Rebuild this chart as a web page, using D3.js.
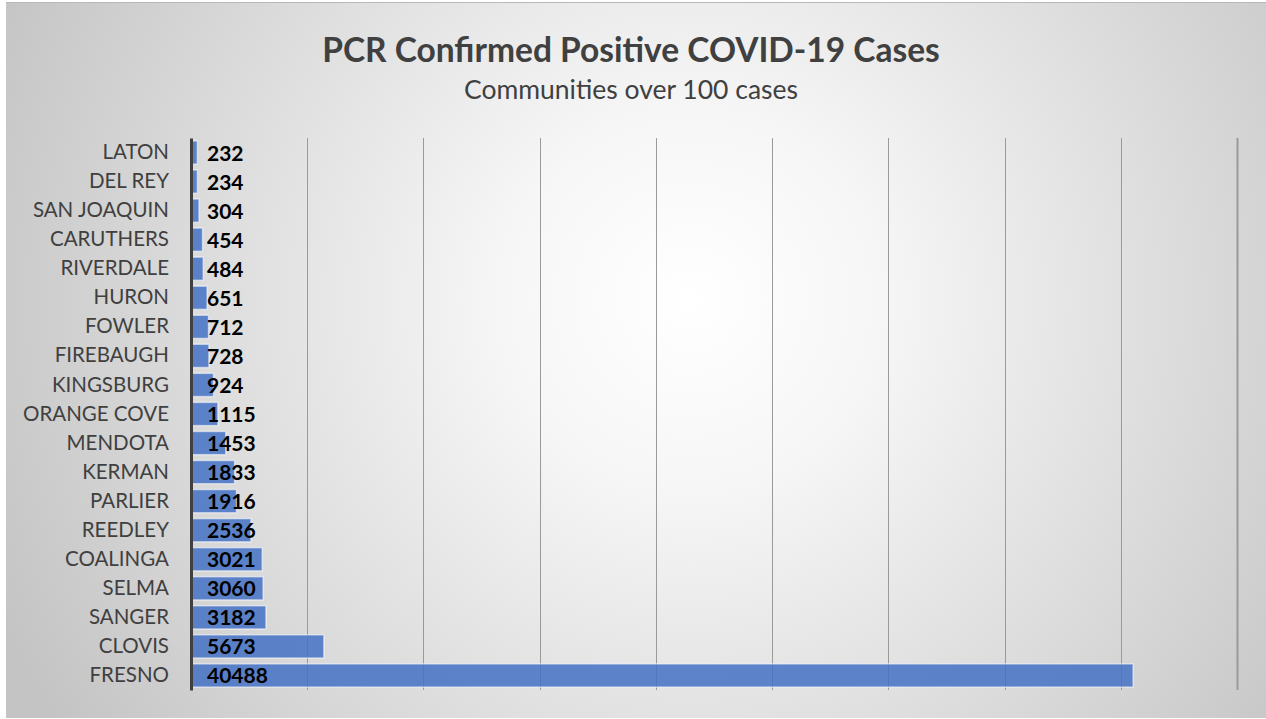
<!DOCTYPE html>
<html>
<head>
<meta charset="utf-8">
<script src="https://cdn.jsdelivr.net/npm/d3@7"></script>
<style>
  html, body { margin: 0; padding: 0; background: #fff; }
  svg { display: block; }
</style>
</head>
<body>
<div id="chart"></div>
<script>
let communities = ['LATON','DEL REY','SAN JOAQUIN','CARUTHERS','RIVERDALE','HURON','FOWLER','FIREBAUGH','KINGSBURG','ORANGE COVE','MENDOTA','KERMAN','PARLIER','REEDLEY','COALINGA','SELMA','SANGER','CLOVIS','FRESNO'];
let cases = [232,234,304,454,484,651,712,728,924,1115,1453,1833,1916,2536,3021,3060,3182,5673,40488];
let gridTicks = [0,5000,10000,15000,20000,25000,30000,35000,40000,45000];

let W = 1266, H = 719;
let margin = {top: 138, left: 191, right: 29, bottom: 29};
let font = 'Lato, "Open Sans", sans-serif';

let data = communities.map(function(c, i) { return {name: c, value: cases[i]}; });

let svg = d3.select('#chart').append('svg')
  .attr('width', W).attr('height', H);

let defs = svg.append('defs');
let grad = defs.append('radialGradient')
  .attr('id', 'bg')
  .attr('gradientUnits', 'userSpaceOnUse')
  .attr('cx', 690).attr('cy', 300).attr('r', 760);
grad.append('stop').attr('offset', '0%').attr('stop-color', '#ffffff');
grad.append('stop').attr('offset', '25%').attr('stop-color', '#f6f6f6');
grad.append('stop').attr('offset', '100%').attr('stop-color', '#c4c4c4');

// frame
svg.append('rect').attr('x', 6).attr('y', 2).attr('width', W - 6).attr('height', 716)
  .attr('fill', 'url(#bg)');
svg.append('line').attr('x1', 6).attr('x2', W).attr('y1', 2.5).attr('y2', 2.5)
  .attr('stroke', '#b8b8b8').attr('stroke-width', 1);

let x = d3.scaleLinear()
  .domain([0, 45000])
  .range([margin.left, W - margin.right]);

let y = d3.scaleBand()
  .domain(communities)
  .range([margin.top, H - margin.bottom])
  .paddingInner(0.2)
  .paddingOuter(0.1);

// gridlines
svg.append('g').attr('class', 'grid')
  .selectAll('line')
  .data(gridTicks.slice(1))
  .enter().append('line')
  .attr('x1', function(d) { return Math.round(x(d)) + 0.5; })
  .attr('x2', function(d) { return Math.round(x(d)) + 0.5; })
  .attr('y1', margin.top)
  .attr('y2', H - margin.bottom)
  .attr('stroke', '#9a9a9a')
  .attr('stroke-width', function(d, i) { return i === gridTicks.length - 2 ? 2 : 1; });

// bars
svg.append('g').attr('class', 'bars')
  .selectAll('rect')
  .data(data)
  .enter().append('rect')
  .attr('x', x(0) + 1)
  .attr('y', function(d) { return y(d.name); })
  .attr('width', function(d) { return x(d.value) - x(0); })
  .attr('height', y.bandwidth())
  .attr('fill', '#4472c4')
  .attr('fill-opacity', 0.85)
  .attr('stroke', 'rgba(255,255,255,0.55)')
  .attr('stroke-width', 1.5);

// category axis
let yAxis = d3.axisLeft(y).tickSize(0).tickPadding(22);
let yAxis_g = svg.append('g')
  .attr('class', 'y axis')
  .attr('transform', 'translate(' + x(0) + ',0)')
  .call(yAxis);
yAxis_g.select('.domain')
  .attr('stroke', '#404040').attr('stroke-width', 3);
yAxis_g.selectAll('text')
  .attr('font-family', font)
  .attr('font-size', 20.5)
  .attr('fill', '#404040');

// value labels
svg.append('g').attr('class', 'labels')
  .selectAll('text')
  .data(data)
  .enter().append('text')
  .attr('x', x(0) + 16)
  .attr('y', function(d) { return y(d.name) + y.bandwidth() / 2; })
  .attr('dy', '0.38em')
  .attr('font-family', font)
  .attr('font-weight', 'bold')
  .attr('font-size', 21)
  .attr('fill', '#000')
  .text(function(d) { return d.value; });

// titles
svg.append('text')
  .attr('x', 631).attr('y', 62)
  .attr('text-anchor', 'middle')
  .attr('font-family', font)
  .attr('font-weight', 'bold')
  .attr('font-size', 33.5)
  .attr('fill', '#404040')
  .text('PCR Confirmed Positive COVID-19 Cases');

svg.append('text')
  .attr('x', 631).attr('y', 99)
  .attr('text-anchor', 'middle')
  .attr('font-family', font)
  .attr('font-size', 26.5)
  .attr('fill', '#404040')
  .text('Communities over 100 cases');
</script>
</body>
</html>
